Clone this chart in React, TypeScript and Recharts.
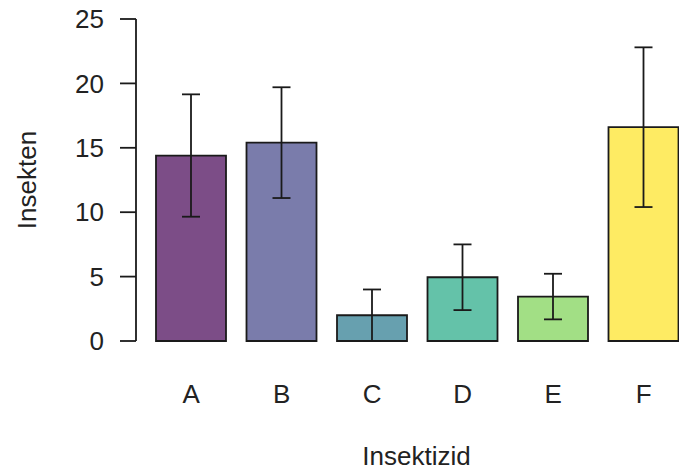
import React from "react";
import { BarChart, Bar, XAxis, YAxis, ErrorBar, Cell } from "recharts";

// Werte
const insektizide = ["A", "B", "C", "D", "E", "F"];
const mittelwerte = [14.4, 15.4, 2.0, 4.95, 3.45, 16.6];
const fehler = [4.75, 4.3, 2.0, 2.55, 1.77, 6.2];
const farben = ["#7C4D87", "#7A7CAB", "#67A0AF", "#64C2A9", "#A2DF85", "#FEEB63"];
const yTicks = [0, 5, 10, 15, 20, 25];

const schrift = "'Liberation Sans', Arial, sans-serif";
const textFarbe = "#222";
const linie = "#1a1a1a";

const data = insektizide.map((name, i) => ({
  name,
  wert: mittelwerte[i],
  fehler: fehler[i],
}));

const YLabel = (props: any) => {
  const vb = props.viewBox || { x: 0, y: 0, height: 0 };
  const cx = vb.x + 27;
  const cy = vb.y + vb.height / 2;
  return (
    <text
      x={cx}
      y={cy}
      dy="0.355em"
      transform={`rotate(-90 ${cx} ${cy})`}
      textAnchor="middle"
      fontSize={26}
      fontFamily={schrift}
      fill={textFarbe}
    >
      Insekten
    </text>
  );
};

export default function App() {
  return (
    <div
      style={{
        position: "absolute",
        left: 0,
        top: 0,
        width: 679,
        height: 469,
        overflow: "hidden",
        background: "#fff",
      }}
    >
      <BarChart
        width={697}
        height={469}
        data={data}
        margin={{ top: 19, right: 0, left: 0, bottom: 0 }}
      >
        <XAxis
          dataKey="name"
          height={128}
          axisLine={false}
          tickLine={false}
          tickSize={0}
          tickMargin={43.5}
          padding={{ left: 10, right: 8 }}
          interval={0}
          tick={{ fontSize: 26, fill: textFarbe, fontFamily: schrift }}
          label={{
            value: "Insektizid",
            position: "insideBottom",
            offset: 4,
            fontSize: 26,
            fill: textFarbe,
            fontFamily: schrift,
          }}
        />
        <YAxis
          width={136}
          domain={[0, 25]}
          ticks={yTicks}
          interval={0}
          tickSize={16}
          tickMargin={16}
          axisLine={{ stroke: linie, strokeWidth: 1.8 }}
          tickLine={{ stroke: linie, strokeWidth: 1.8 }}
          tick={{ fontSize: 26, fill: textFarbe, fontFamily: schrift }}
          label={<YLabel />}
        />
        <Bar
          dataKey="wert"
          barSize={70}
          stroke={linie}
          strokeWidth={1.8}
          isAnimationActive={false}
        >
          {data.map((d, i) => (
            <Cell key={d.name} fill={farben[i]} />
          ))}
          <ErrorBar
            dataKey="fehler"
            width={9}
            stroke={linie}
            strokeWidth={1.8}
            isAnimationActive={false}
          />
        </Bar>
      </BarChart>
    </div>
  );
}
